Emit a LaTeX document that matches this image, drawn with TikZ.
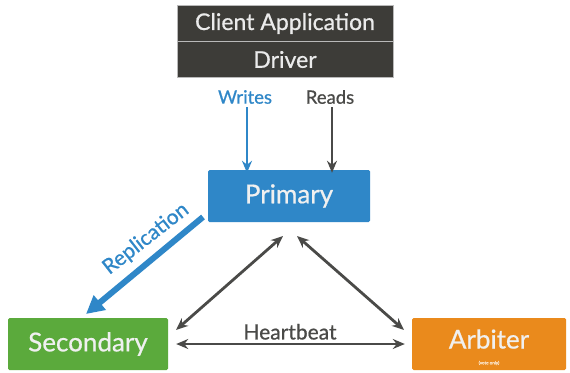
\documentclass[tikz,border=0pt]{standalone}
\usepackage{fontspec}
\setmainfont{Lato}[FakeBold=0.7]
\usetikzlibrary{arrows.meta,calc}
\definecolor{darkbox}{HTML}{3D3C38}
\definecolor{primblue}{HTML}{2F87C8}
\definecolor{secgreen}{HTML}{5BAA3C}
\definecolor{arborange}{HTML}{EA8A1C}
\definecolor{linkgray}{HTML}{4A4A48}
\begin{document}
\begin{tikzpicture}[x=1pt,y=-1pt,
  every node/.style={inner sep=0pt},
  darkcell/.style={fill=darkbox,draw=gray!55,line width=1pt,minimum width=216pt,text=white!92!black,font=\fontsize{23}{25}\selectfont},
  rolebox/.style={minimum height=52pt,rounded corners=1.5pt,text=white!94!black,font=\fontsize{26}{28}\selectfont},
  lbl/.style={font=\fontsize{18.5}{20}\selectfont},
  link/.style={draw=linkgray,line width=2.8pt,{Stealth[length=12pt,width=10pt]}-{Stealth[length=12pt,width=10pt]}},
  oneway/.style={line width=2.8pt,-{Stealth[length=12pt,width=10pt]}}]
\useasboundingbox[fill=white] (0,0) rectangle (570,372);

% client stack
\node[darkcell,minimum height=37pt] (client) at (285,23.5) {Client Application};
\node[darkcell,minimum height=36pt] (driver) at (285,59.5) {Driver};

% replica set members
\node[rolebox,fill=primblue,minimum width=162pt] (primary) at (289,196) {Primary};
\node[rolebox,fill=secgreen,minimum width=160pt] (secondary) at (88,344) {Secondary};
\node[rolebox,fill=arborange,minimum width=154pt,text height=18pt,text depth=9pt] (arbiter) at (489,344) {Arbiter};
\node[font=\fontsize{4.5}{5}\selectfont,text=white!80!arborange] (voteonly) at (489,363) {(vote only)};

% read / write paths
\node[lbl,text=primblue] (writes) at (245,97) {Writes};
\node[lbl,text=linkgray] (reads) at (330,97) {Reads};
\draw[oneway,draw=primblue] ([xshift=2pt,yshift=-3pt]writes.south) -- ([xshift=2pt,yshift=-3pt]writes.south |- primary.north);
\draw[oneway,draw=linkgray] ([xshift=2pt,yshift=-3pt]reads.south) -- ([xshift=2pt,yshift=-3pt]reads.south |- primary.north);

% heartbeat links
\coordinate (pl) at (283,236);
\coordinate (pr) at (297,236);
\coordinate (sr) at (176,330);
\coordinate (al) at (404,330);
\draw[link] (pl) -- (sr);
\draw[link] (pr) -- (al);
\draw[link,shorten <=8pt,shorten >=7pt] (secondary.east) -- node[above=3pt,font=\fontsize{21}{23}\selectfont,text=linkgray] (hb) {Heartbeat} (arbiter.west);

% replication
\coordinate (rs) at (203,217);
\coordinate (re) at (86,314);
\draw[draw=primblue,line width=6pt,-{Triangle[length=18pt,width=18pt]}] (rs) -- (re);
\node[font=\fontsize{21}{23}\selectfont,text=primblue,rotate=38] (repl) at (146,239) {Replication};
\end{tikzpicture}
\end{document}
